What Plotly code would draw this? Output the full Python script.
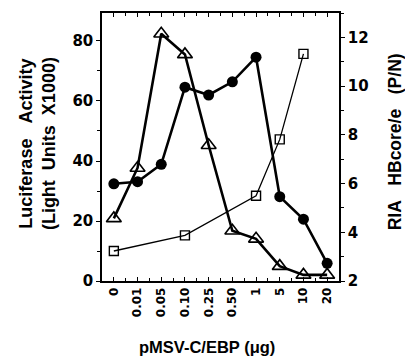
import plotly.graph_objects as go

categories = ["0", "0.01", "0.05", "0.10", "0.25", "0.50", "1", "5", "10", "20"]

# Filled circles (left axis, luciferase activity)
circle_x = ["0", "0.01", "0.05", "0.10", "0.25", "0.50", "1", "5", "10", "20"]
circle_y = [32.4, 33.1, 38.9, 64.6, 62.0, 66.4, 74.6, 28.1, 20.6, 5.9]

# Open squares (left axis)
square_x = ["0", "0.10", "1", "5", "10"]
square_y = [10.0, 15.2, 28.4, 47.2, 75.7]

# Open triangles (right axis, RIA P/N)
triangle_x = ["0", "0.01", "0.05", "0.10", "0.25", "0.50", "1", "5", "10", "20"]
triangle_y = [4.57, 6.64, 12.15, 11.3, 7.57, 4.06, 3.73, 2.61, 2.25, 2.25]

left_ticks = [0, 20, 40, 60, 80]
right_ticks = [2, 4, 6, 8, 10, 12]

idx = {c: i for i, c in enumerate(categories)}

fig = go.Figure()
fig.add_trace(go.Scatter(
    x=[idx[c] for c in square_x], y=square_y, mode="lines+markers",
    line=dict(color="black", width=1.3),
    marker=dict(symbol="square-open", size=9, color="black", line=dict(width=1.4)),
    showlegend=False))
fig.add_trace(go.Scatter(
    x=[idx[c] for c in circle_x], y=circle_y, mode="lines+markers",
    line=dict(color="black", width=2.6),
    marker=dict(symbol="circle", size=11, color="black"),
    showlegend=False))
fig.add_trace(go.Scatter(
    x=[idx[c] for c in triangle_x], y=triangle_y, mode="lines+markers", yaxis="y2",
    line=dict(color="black", width=2.6),
    marker=dict(symbol="triangle-up-open", size=13, color="black", line=dict(width=1.6)),
    showlegend=False))

tickfont_y = dict(family="DejaVu Sans", size=15, color="black", weight="bold")
tickfont_x = dict(family="DejaVu Sans", size=12, color="black", weight="bold")

fig.update_layout(
    width=405, height=358,
    margin=dict(l=102, r=66, t=13, b=77),
    paper_bgcolor="white", plot_bgcolor="white",
    xaxis=dict(
        range=[-0.5, 9.5], tickmode="array", tickvals=list(range(len(categories))),
        ticktext=categories, tickangle=-90, tickfont=tickfont_x,
        ticks="inside", ticklen=4, tickwidth=1.3, tickcolor="black",
        minor=dict(dtick=0.5, tick0=0, ticks="inside", ticklen=3, tickwidth=1.2, tickcolor="black"),
        showline=True, linecolor="black", linewidth=1.5, mirror="ticks",
        showgrid=False, zeroline=False),
    yaxis=dict(
        range=[0, 89.33], tickmode="array", tickvals=left_ticks, tickfont=tickfont_y,
        ticks="outside", ticklen=4, tickwidth=1.3, tickcolor="black",
        minor=dict(dtick=10, tick0=0, ticks="outside", ticklen=3, tickwidth=1.2, tickcolor="black"),
        showline=True, linecolor="black", linewidth=1.5,
        showgrid=False, zeroline=False),
    yaxis2=dict(
        range=[2, 13], overlaying="y", side="right", tickmode="array", tickvals=right_ticks,
        tickfont=tickfont_y,
        ticks="outside", ticklen=4, tickwidth=1.3, tickcolor="black",
        minor=dict(dtick=1, tick0=0, ticks="outside", ticklen=3, tickwidth=1.2, tickcolor="black"),
        showline=True, linecolor="black", linewidth=1.5,
        showgrid=False, zeroline=False),
)

sp3 = "\u00a0\u00a0\u00a0"
sp2 = "\u00a0\u00a0"
fig.add_annotation(
    text="Luciferase" + sp3 + "Activity<br>(Light" + sp2 + "Units" + sp2 + "X1000)",
    xref="paper", yref="paper", x=-0.274, y=0.511, xanchor="center", yanchor="middle",
    textangle=-90, showarrow=False, borderpad=0,
    font=dict(family="Liberation Sans", size=18, color="black", weight="bold"))
fig.add_annotation(
    text="RIA" + sp3 + "HBcore/e" + sp3 + "(P/N)",
    xref="paper", yref="paper", x=1.234, y=0.519, xanchor="center", yanchor="middle",
    textangle=-90, showarrow=False, borderpad=0,
    font=dict(family="Liberation Sans", size=17.5, color="black", weight="bold"))
fig.add_annotation(
    text="pMSV-C/EBP (μg)",
    xref="paper", yref="paper", x=0.441, y=-0.246, xanchor="center", yanchor="middle",
    showarrow=False, font=dict(family="Liberation Sans", size=16.5, color="black", weight="bold"))

fig.write_html(
    "out.html",
    config={"displayModeBar": False},
    post_script="document.body.style.margin='0px';document.body.style.overflow='hidden';",
)
